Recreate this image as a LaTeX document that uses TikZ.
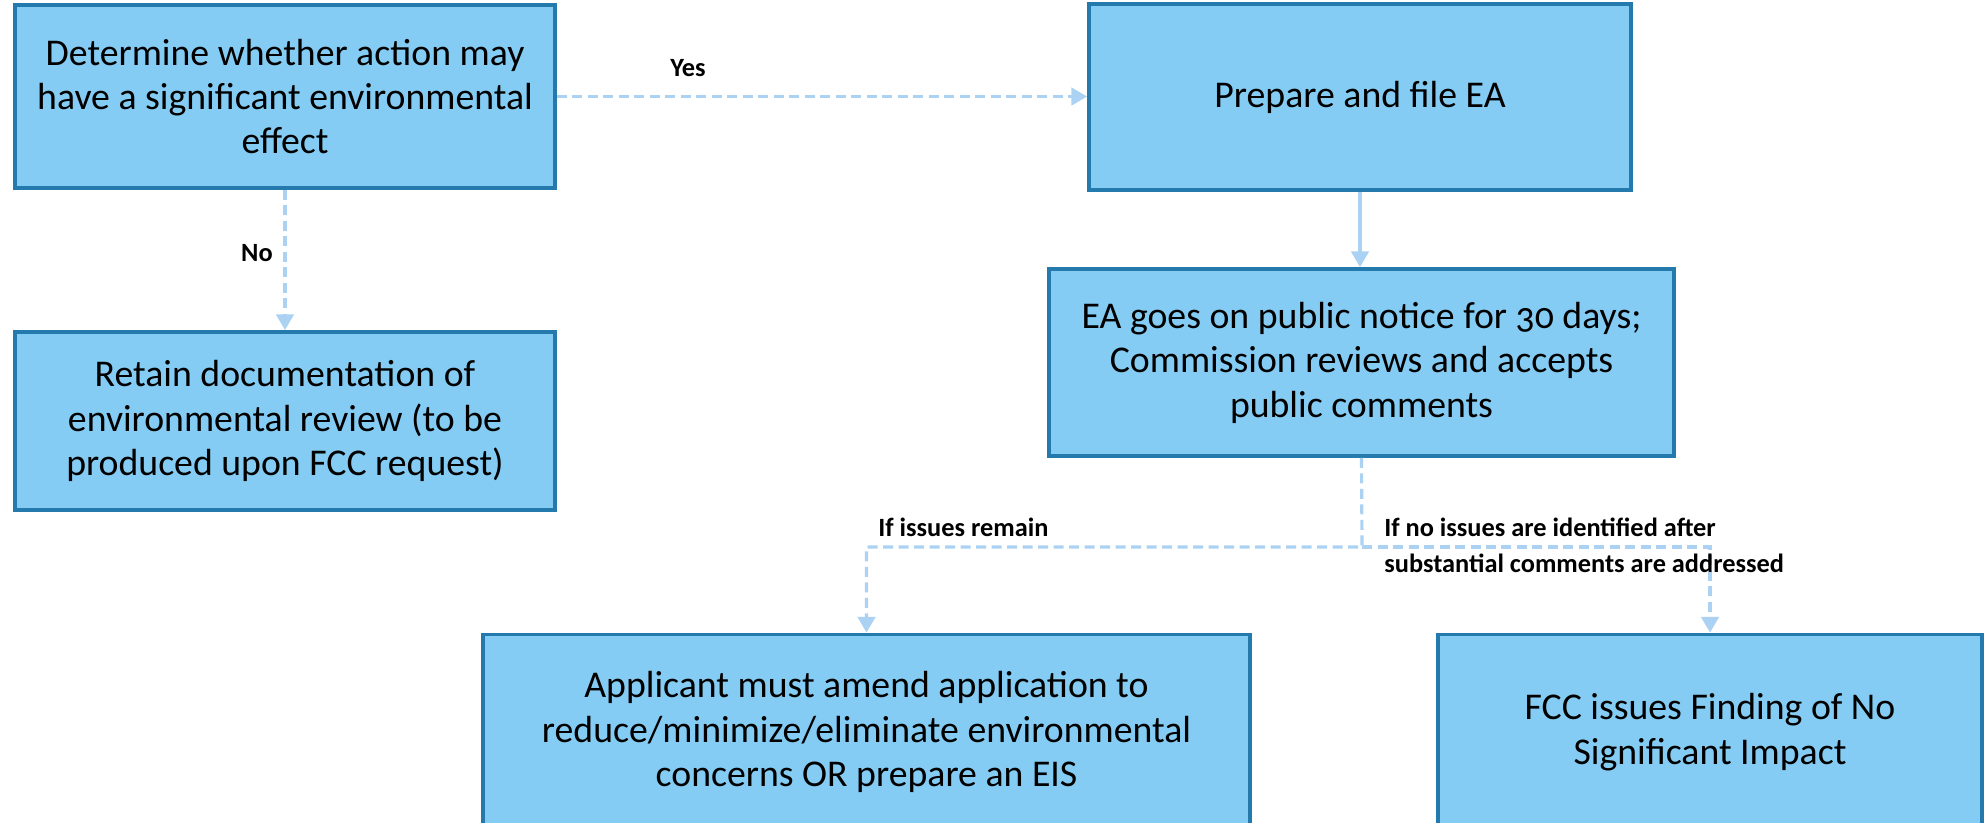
\documentclass[tikz,border=0pt]{standalone}
\usepackage{fontspec}
\setmainfont[Numbers=OldStyle]{Carlito}
\usetikzlibrary{arrows.meta}
\definecolor{boxfill}{RGB}{132,204,243}
\definecolor{boxline}{RGB}{36,122,172}
\definecolor{flowline}{RGB}{172,210,243}
\begin{document}
\begin{tikzpicture}[x=0.02cm,y=-0.02cm,
    box/.style={draw=boxline,line width=2.2pt,fill=boxfill,align=center,
        font=\fontsize{21.5}{25.3}\selectfont,inner sep=0pt},
    flow/.style={draw=flowline,line width=1.8pt,-{Triangle[length=9pt,width=10pt]}},
    dashflow/.style={flow,dash pattern=on 0.2cm off 0.11cm},
    lbl/.style={font=\bfseries\fontsize{15}{20.5}\selectfont,align=left,inner sep=0pt}]
    \useasboundingbox (0,0) rectangle (1986,822);
    % boxes
    \node[box,minimum width=10.8cm,minimum height=3.66cm] (start) at (285,96.5)
        {Determine whether action may\\have a significant environmental\\effect};
    \node[box,minimum width=10.8cm,minimum height=3.56cm] (retain) at (285,421)
        {Retain documentation of\\environmental review (to be\\produced upon FCC request)};
    \node[box,minimum width=10.84cm,minimum height=3.72cm] (prep) at (1360,97)
        {Prepare and file EA};
    \node[box,minimum width=12.5cm,minimum height=3.74cm] (ea) at (1361.5,362.5)
        {EA goes on public notice for 30 days;\\Commission reviews and accepts\\public comments};
    \node[box,minimum width=15.34cm,minimum height=3.9cm] (amend) at (866.5,732)
        {Applicant must amend application to\\reduce/minimize/eliminate environmental\\concerns OR prepare an EIS};
    \node[box,minimum width=10.88cm,minimum height=3.9cm] (fonsi) at (1710,732)
        {FCC issues Finding of No\\Significant Impact};
    % connectors
    \draw[dashflow] (start.east) -- (start.east -| prep.west);
    \draw[dashflow] (start.south) -- (retain.north);
    \draw[flow] (prep.south) -- (prep.south |- ea.north);
    \coordinate (split) at (1362,547);
    \draw[dashflow] (ea.south) -- (split) -| (amend.north);
    \draw[dashflow] (split) -| (fonsi.north);
    % labels
    \node[lbl] (yes) at (688,68) {Yes};
    \node[lbl] (no) at (257,253) {No};
    \node[lbl,anchor=west] (remain) at (878,527) {If issues remain};
    \node[lbl,anchor=west] (noissue) at (1384,545)
        {If no issues are identified after\\substantial comments are addressed};
\end{tikzpicture}
\end{document}
